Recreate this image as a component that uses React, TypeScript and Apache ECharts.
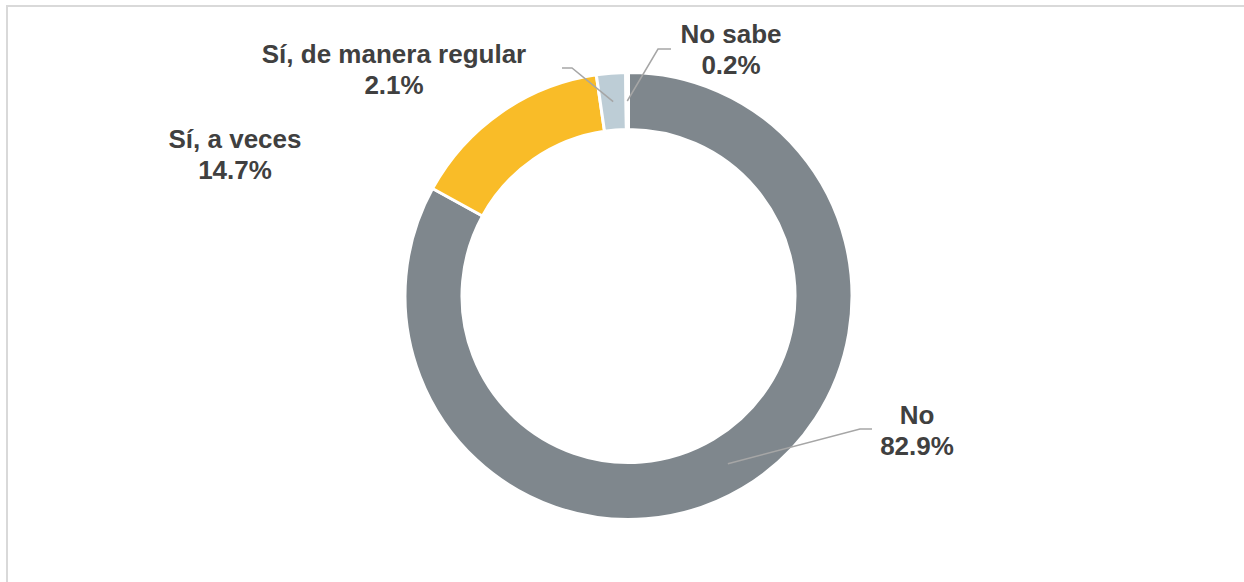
import React, { useEffect, useRef } from "react";
import * as echarts from "echarts";

const categories = ["No", "Sí, a veces", "Sí, de manera regular", "No sabe"];
const values = [82.9, 14.7, 2.1, 0.2];
const colors = ["#7f878d", "#f9bc28", "#bdcdd6", "#e3e9ec"];

// label placement (block centre) and leader-line elbow / end, per slice
const labelCenters: number[][] = [[917, 430], [235, 154], [394, 69], [731, 49]];
const leaderElbows: (number[] | null)[] = [[860, 429], null, [572, 68], [658, 49]];
const leaderEnds: (number[] | null)[] = [[872, 429], null, [562, 68], [671, 49]];

const CX = 628.5;
const CY = 296;
const R_IN = 166.5;
const R_OUT = 223.5;

export default function App() {
  const ref = useRef<HTMLDivElement>(null);

  useEffect(() => {
    if (!ref.current) return;
    const chart = echarts.init(ref.current, undefined, { renderer: "svg" });
    const total = values.reduce((a, b) => a + b, 0);
    const rMid = (R_IN + R_OUT) / 2;
    const midPoint = (i: number) => {
      const before = values.slice(0, i).reduce((a, b) => a + b, 0);
      const a = ((before + values[i] / 2) / total) * Math.PI * 2;
      return [CX + rMid * Math.sin(a), CY - rMid * Math.cos(a)];
    };

    chart.setOption({
      animation: false,
      backgroundColor: "#ffffff",
      graphic: [
        {
          type: "rect",
          silent: true,
          shape: { x: 7, y: 6, width: 1400, height: 800 },
          style: { fill: "none", stroke: "#d9d9d9", lineWidth: 2 },
        },
      ],
      series: [
        {
          type: "pie",
          z: 2,
          center: [CX, CY],
          radius: [R_IN, R_OUT],
          startAngle: 90,
          clockwise: true,
          itemStyle: { borderColor: "#ffffff", borderWidth: 3 },
          label: { show: false },
          labelLine: { show: false },
          data: categories.map((name, i) => ({
            name,
            value: values[i],
            itemStyle: { color: colors[i] },
          })),
        },
        {
          type: "pie",
          z: 6,
          silent: true,
          center: [CX, CY],
          radius: [R_IN, R_OUT],
          startAngle: 90,
          clockwise: true,
          avoidLabelOverlap: false,
          itemStyle: { color: "rgba(0,0,0,0)", borderWidth: 0 },
          label: {
            show: true,
            position: "outside",
            formatter: (p: any) => `${p.name}\n${Number(p.value).toFixed(1)}%`,
            fontFamily: "Liberation Sans, Arial, sans-serif",
            fontWeight: "bold",
            fontSize: 26,
            lineHeight: 31,
            color: "#404040",
            align: "center",
          },
          labelLine: {
            show: true,
            showAbove: true,
            lineStyle: { color: "#a6a6a6", width: 1.5 },
          },
          labelLayout: (params: any) => {
            const i = params.dataIndex;
            const c = labelCenters[i];
            const out: any = { x: c[0], y: c[1], align: "center", verticalAlign: "middle" };
            const elbow = leaderElbows[i];
            const end = leaderEnds[i];
            if (elbow && end) {
              out.labelLinePoints = [midPoint(i), elbow, end];
            }
            return out;
          },
          data: categories.map((name, i) => ({
            name,
            value: values[i],
            labelLine: { show: leaderElbows[i] !== null },
          })),
        },
      ],
    });
    return () => chart.dispose();
  }, []);

  return (
    <div
      ref={ref}
      style={{ position: "fixed", left: 0, top: 0, width: 1244, height: 582 }}
    />
  );
}
